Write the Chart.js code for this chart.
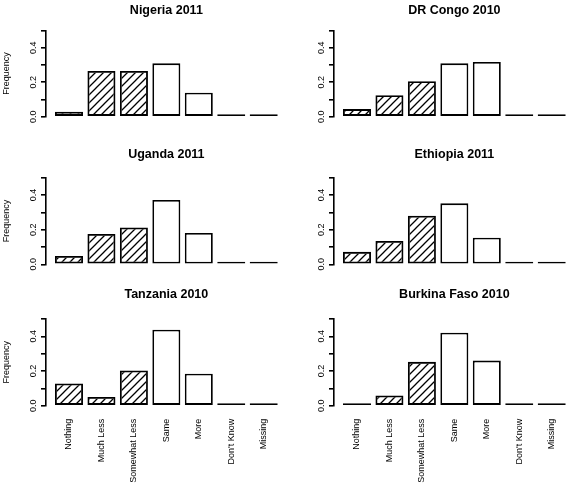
<!DOCTYPE html>
<html>
<head>
<meta charset="utf-8">
<script src="https://cdn.jsdelivr.net/npm/chart.js@4.4.1/dist/chart.umd.min.js"></script>
<style>
  html, body { margin: 0; padding: 0; background: #fff; overflow: hidden; }
  #wrap { position: relative; width: 567px; height: 490px; overflow: hidden; }
  #wrap canvas { position: absolute; }
</style>
</head>
<body>
<div id="wrap"></div>
<script>
// answer categories, first three drawn hatched
const categories = ['Nothing', 'Much Less', 'Somewhat Less', 'Same', 'More', "Don't Know", 'Missing'];
const hatched = [true, true, true, false, false, false, false];

const titles = ['Nigeria 2011', 'DR Congo 2010', 'Uganda 2011', 'Ethiopia 2011', 'Tanzania 2010', 'Burkina Faso 2010'];
const nigeria = [0.029, 0.265, 0.265, 0.309, 0.139, 0.006, 0.001];
const drCongo = [0.044, 0.124, 0.205, 0.309, 0.317, 0.012, 0.001];
const uganda = [0.048, 0.175, 0.213, 0.371, 0.181, 0.010, 0.001];
const ethiopia = [0.072, 0.135, 0.280, 0.352, 0.154, 0.004, 0.004];
const tanzania = [0.128, 0.050, 0.203, 0.438, 0.184, 0.001, 0.006];
const burkina = [0.010, 0.059, 0.253, 0.421, 0.260, 0.001, 0.001];
const series = [nigeria, drCongo, uganda, ethiopia, tanzania, burkina];

const yTicks = [0, 0.1, 0.2, 0.3, 0.4, 0.5];
const yTickLabels = ['0.0', '', '0.2', '', '0.4', ''];

Chart.defaults.font.family = '"Liberation Sans", Arial, sans-serif';
Chart.defaults.color = '#000';

// bar centres like R's barplot (width 1, space 0.2)
const barPos = i => 0.7 + 1.2 * i;

// diagonal hatch fill
function makeHatch() {
  const c = document.createElement('canvas');
  c.width = 8; c.height = 8;
  const g = c.getContext('2d');
  g.strokeStyle = '#000';
  g.lineWidth = 1.3;
  g.beginPath();
  g.moveTo(0, 8); g.lineTo(8, 0);
  g.moveTo(-1, 1); g.lineTo(1, -1);
  g.moveTo(7, 9); g.lineTo(9, 7);
  g.stroke();
  return g.createPattern(c, 'repeat');
}
const hatch = makeHatch();

// rotated y tick labels, R style
const yLabelPlugin = {
  id: 'yLabels',
  afterDraw(chart) {
    const s = chart.scales.y;
    const ctx = chart.ctx;
    ctx.save();
    ctx.font = '9px "Liberation Sans", Arial, sans-serif';
    ctx.fillStyle = '#000';
    ctx.textAlign = 'center';
    ctx.textBaseline = 'middle';
    s.ticks.forEach((t, i) => {
      if (!yTickLabels[i]) return;
      ctx.save();
      ctx.translate(chart.chartArea.left - 12, s.getPixelForValue(t.value));
      ctx.rotate(-Math.PI / 2);
      ctx.fillText(yTickLabels[i], 0, 0);
      ctx.restore();
    });
    ctx.restore();
  }
};

const rows = [
  { top: 0, height: 125, titlePad: { top: 3, bottom: 12.4 }, padBottom: 8.3, xAxis: false },
  { top: 140, height: 135, titlePad: { top: 7.5, bottom: 15.2 }, padBottom: 10.7, xAxis: false },
  { top: 280, height: 210, titlePad: { top: 7.5, bottom: 16.5 }, padBottom: 0, xAxis: true }
];
const colLeft = [0, 288];
const W = 295;

const wrap = document.getElementById('wrap');

series.forEach((vals, k) => {
  const row = rows[Math.floor(k / 2)];
  const col = k % 2;
  const cv = document.createElement('canvas');
  cv.width = W;
  cv.height = row.height;
  cv.style.left = colLeft[col] + 'px';
  cv.style.top = row.top + 'px';
  wrap.appendChild(cv);

  new Chart(cv.getContext('2d'), {
    type: 'bar',
    data: {
      datasets: [{
        data: vals.map((v, i) => ({ x: barPos(i), y: v })),
        backgroundColor: hatched.map(h => h ? hatch : '#fff'),
        borderColor: '#000',
        borderWidth: 1.8,
        borderSkipped: false,
        minBarLength: 2.5,
        barPercentage: 0.863,
        categoryPercentage: 1,
        clip: false
      }]
    },
    options: {
      responsive: false,
      animation: false,
      devicePixelRatio: 1,
      layout: { padding: { left: 0, right: 8.3, top: 0, bottom: row.padBottom } },
      plugins: {
        legend: { display: false },
        tooltip: { enabled: false },
        title: {
          display: true,
          text: titles[k],
          fullSize: false,
          font: { size: 12.5, weight: 'bold' },
          color: '#000',
          padding: row.titlePad
        }
      },
      scales: {
        x: {
          type: 'linear',
          min: -0.15,
          max: 8.75,
          offset: false,
          display: row.xAxis,
          border: { display: false },
          grid: { display: false, drawTicks: false, offset: false },
          afterBuildTicks: s => { s.ticks = categories.map((c, i) => ({ value: barPos(i) })); },
          afterFit: s => {
            s.height = row.xAxis ? 84.3 : 0;
            s.paddingLeft = 0;
            s.paddingRight = 0;
          },
          ticks: {
            autoSkip: false,
            minRotation: 90,
            maxRotation: 90,
            padding: 13,
            font: { size: 9 },
            color: '#000',
            callback: (v, i) => categories[i]
          }
        },
        y: {
          min: 0,
          max: 0.5,
          afterBuildTicks: s => { s.ticks = yTicks.map(v => ({ value: v })); },
          afterFit: s => { s.width = 46; s.paddingTop = 0; s.paddingBottom = 0; },
          border: { display: true, color: '#000', width: 1.6 },
          grid: { drawOnChartArea: false, drawTicks: true, tickLength: 5, color: '#000', lineWidth: 1.6 },
          ticks: { display: false },
          title: {
            display: col === 0,
            text: 'Frequency',
            font: { size: 9 },
            color: '#000',
            padding: { top: 1.6, bottom: 0 }
          }
        }
      }
    },
    plugins: [yLabelPlugin]
  });
});
</script>
</body>
</html>
